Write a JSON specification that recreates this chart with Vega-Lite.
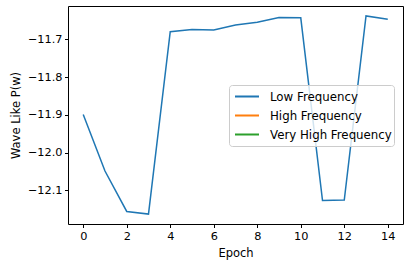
{
  "$schema": "https://vega.github.io/schema/vega-lite/v6.json",
  "autosize": "none",
  "padding": {"left": 68, "top": 6, "right": 6, "bottom": 44},
  "width": 335,
  "height": 218,
  "config": {
    "font": "DejaVu Sans",
    "view": {"stroke": "#000000", "strokeWidth": 1},
    "axis": {
      "grid": false,
      "domain": false,
      "tickColor": "#000000",
      "tickSize": 3.5,
      "labelColor": "#000000",
      "labelFont": "DejaVu Sans",
      "labelFontSize": 11.3,
      "titleFont": "DejaVu Sans",
      "titleFontSize": 11.5,
      "titleFontWeight": "normal",
      "titleColor": "#000000"
    }
  },
  "data": {
    "values": [
      {"epoch": 0, "value": -11.899, "series": "Low Frequency"},
      {"epoch": 1, "value": -12.049, "series": "Low Frequency"},
      {"epoch": 2, "value": -12.156, "series": "Low Frequency"},
      {"epoch": 3, "value": -12.163, "series": "Low Frequency"},
      {"epoch": 4, "value": -11.680, "series": "Low Frequency"},
      {"epoch": 5, "value": -11.674, "series": "Low Frequency"},
      {"epoch": 6, "value": -11.675, "series": "Low Frequency"},
      {"epoch": 7, "value": -11.662, "series": "Low Frequency"},
      {"epoch": 8, "value": -11.655, "series": "Low Frequency"},
      {"epoch": 9, "value": -11.642, "series": "Low Frequency"},
      {"epoch": 10, "value": -11.643, "series": "Low Frequency"},
      {"epoch": 11, "value": -12.127, "series": "Low Frequency"},
      {"epoch": 12, "value": -12.126, "series": "Low Frequency"},
      {"epoch": 13, "value": -11.638, "series": "Low Frequency"},
      {"epoch": 14, "value": -11.647, "series": "Low Frequency"}
    ]
  },
  "mark": {"type": "line", "strokeWidth": 1.5},
  "encoding": {
    "x": {
      "field": "epoch",
      "type": "quantitative",
      "scale": {"domain": [-0.7, 14.7], "nice": false, "zero": false},
      "axis": {"values": [0, 2, 4, 6, 8, 10, 12, 14], "title": "Epoch", "titlePadding": 6, "labelPadding": 3}
    },
    "y": {
      "field": "value",
      "type": "quantitative",
      "scale": {"domain": [-12.1893, -11.6117], "nice": false, "zero": false},
      "axis": {"values": [-12.1, -12.0, -11.9, -11.8, -11.7], "format": ".1f", "title": "Wave Like P(w)", "titlePadding": 6, "labelPadding": 2.5}
    },
    "color": {
      "field": "series",
      "type": "nominal",
      "scale": {
        "domain": ["Low Frequency", "High Frequency", "Very High Frequency"],
        "range": ["#1f77b4", "#ff7f0e", "#2ca02c"]
      },
      "legend": {
        "title": null,
        "orient": "none",
        "legendX": 161,
        "legendY": 79,
        "symbolType": "stroke",
        "symbolStrokeWidth": 2,
        "symbolSize": 576,
        "symbolOffset": 3,
        "labelOffset": 10,
        "labelFontSize": 11.8,
        "labelFont": "DejaVu Sans",
        "labelColor": "#000000",
        "rowPadding": 0,
        "clipHeight": 19,
        "fillColor": "rgba(255,255,255,0.8)",
        "strokeColor": "#cccccc",
        "cornerRadius": 3,
        "padding": 2
      }
    }
  }
}
